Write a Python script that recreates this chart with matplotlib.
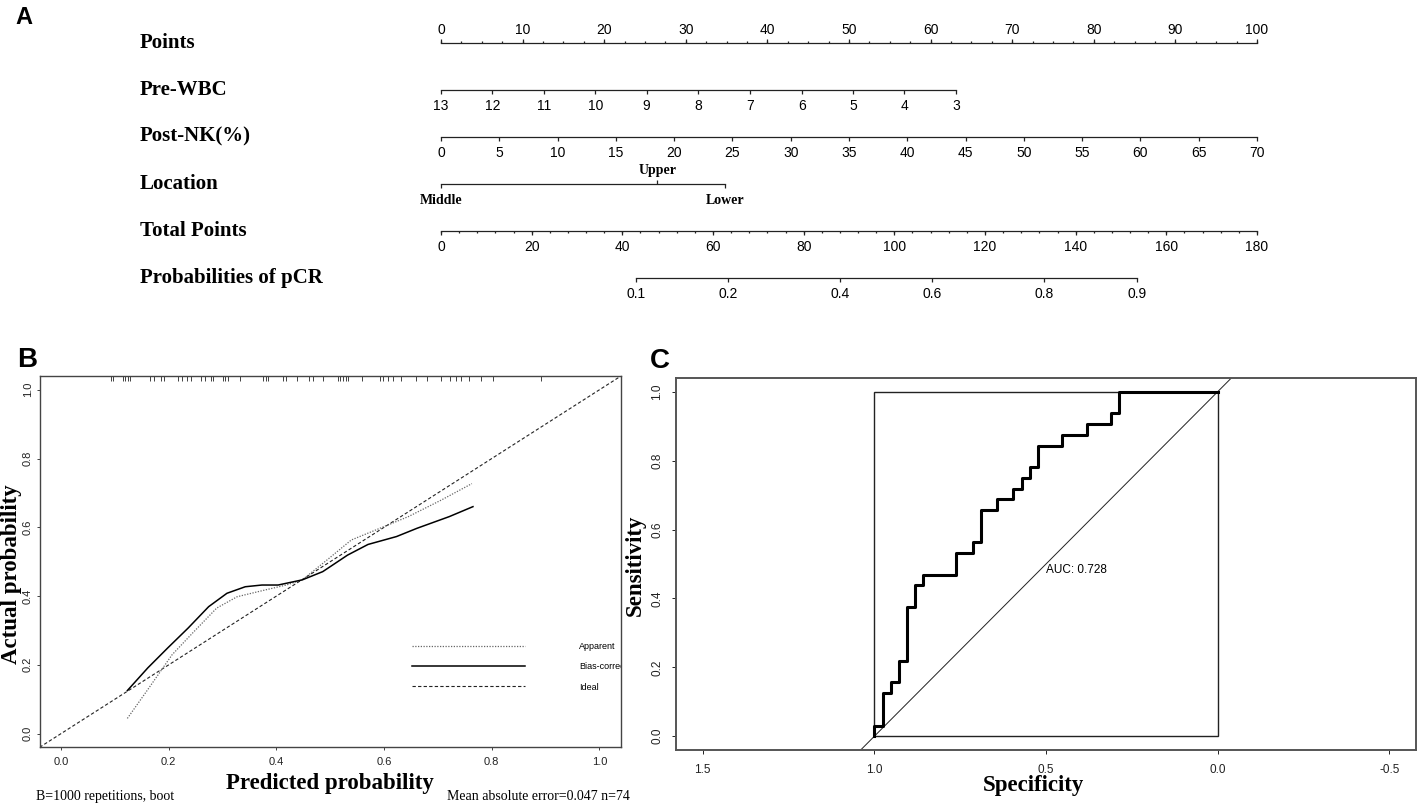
import matplotlib
matplotlib.use("Agg")
import matplotlib.pyplot as plt
import matplotlib.transforms as mtransforms
from matplotlib.lines import Line2D
from matplotlib.patches import Rectangle
import numpy as np

W, H = 1417, 805

SERIF = ["Liberation Serif", "DejaVu Serif"]
SANS = ["Liberation Sans", "DejaVu Sans"]
NARROW = ["Liberation Sans Narrow", "Liberation Sans", "DejaVu Sans"]
INK = "#222222"

# ---------------- panel A: nomogram ----------------
row_names = ["Points", "Pre-WBC", "Post-NK(%)", "Location", "Total Points",
             "Probabilities of pCR"]
points_ticks = [0, 10, 20, 30, 40, 50, 60, 70, 80, 90, 100]
wbc_ticks = [13, 12, 11, 10, 9, 8, 7, 6, 5, 4, 3]
wbc_points = [0.0, 6.3, 12.6, 18.9, 25.2, 31.5, 37.9, 44.2, 50.5, 56.8, 63.1]
nk_ticks = [0, 5, 10, 15, 20, 25, 30, 35, 40, 45, 50, 55, 60, 65, 70]
nk_max = 70
location_names = ["Middle", "Upper", "Lower"]
location_points = [0.0, 26.5, 34.8]
total_ticks = [0, 20, 40, 60, 80, 100, 120, 140, 160, 180]
total_max = 180
prob_ticks = ["0.1", "0.2", "0.4", "0.6", "0.8", "0.9"]
prob_total_points = [43.0, 63.4, 88.0, 108.4, 133.1, 153.5]

# ---------------- panel B: calibration ----------------
apparent_x = [0.123, 0.161, 0.206, 0.244, 0.289, 0.327, 0.380, 0.418, 0.448,
              0.494, 0.539, 0.592, 0.645, 0.706, 0.763]
apparent_y = [0.044, 0.128, 0.229, 0.292, 0.365, 0.398, 0.418, 0.432, 0.447,
              0.505, 0.563, 0.597, 0.631, 0.679, 0.727]
corrected_x = [0.123, 0.161, 0.198, 0.236, 0.274, 0.308, 0.342, 0.373, 0.403,
               0.448, 0.486, 0.532, 0.570, 0.623, 0.661, 0.721, 0.765]
corrected_y = [0.125, 0.191, 0.249, 0.307, 0.369, 0.408, 0.427, 0.432, 0.432,
               0.447, 0.471, 0.519, 0.550, 0.573, 0.597, 0.631, 0.660]
rug_x = [0.092, 0.097, 0.114, 0.119, 0.124, 0.127, 0.166, 0.173, 0.186, 0.192,
         0.217, 0.225, 0.233, 0.241, 0.259, 0.267, 0.278, 0.283, 0.301, 0.305,
         0.310, 0.332, 0.375, 0.380, 0.384, 0.412, 0.418, 0.438, 0.461, 0.467,
         0.487, 0.514, 0.518, 0.523, 0.529, 0.533, 0.558, 0.592, 0.598, 0.608,
         0.617, 0.631, 0.660, 0.680, 0.705, 0.723, 0.733, 0.742, 0.758, 0.780,
         0.802, 0.892]
legend_labels = ["Apparent", "Bias-corrected", "Ideal"]

# ---------------- panel C: ROC ----------------
roc_spec = [1.0, 0.976, 0.952, 0.929, 0.905, 0.881, 0.857, 0.762, 0.714, 0.690,
            0.643, 0.595, 0.571, 0.548, 0.524, 0.452, 0.381, 0.310, 0.286, 0.0]
roc_sens = [0.0, 0.031, 0.125, 0.156, 0.219, 0.375, 0.438, 0.469, 0.531, 0.563,
            0.656, 0.688, 0.719, 0.750, 0.781, 0.844, 0.875, 0.906, 0.938, 1.0]
auc = 0.728
c_xticks = [1.5, 1.0, 0.5, 0.0, -0.5]


def px(x):
    return x / W


def py(y):
    return 1 - y / H


fig = plt.figure(figsize=(W / 100, H / 100), dpi=100)

# ---- A ----
axA = fig.add_axes([px(441), py(277.7), (1257 - 441) / W, (277.7 - 42.7) / H])
axA.set_xlim(0, 100)
axA.set_ylim(5, 0)
axA.axis("off")
row_tf = mtransforms.blended_transform_factory(fig.transFigure, axA.transData)


def scale(row, pos, labels, up, minor=None):
    axA.plot([min(pos), max(pos)], [row, row], color=INK, lw=0.9, clip_on=False)
    d = -1 if up else 1
    axA.vlines(pos, row, row + d * 0.085, color=INK, lw=0.9, clip_on=False)
    if minor is not None:
        axA.vlines(minor, row, row + d * 0.045, color=INK, lw=0.9, clip_on=False)
    for p, lab in zip(pos, labels):
        axA.annotate(lab, (p, row), xytext=(0, 9.4 if up else -11.5),
                     textcoords="offset points", ha="center", va="center",
                     fontsize=10, family=SANS, annotation_clip=False)


scale(0, points_ticks, [str(t) for t in points_ticks], True,
      minor=np.arange(0, 100.1, 2.5))
scale(1, wbc_points, [str(t) for t in wbc_ticks], False)
scale(2, [t * 100 / nk_max for t in nk_ticks], [str(t) for t in nk_ticks], False)
scale(4, [t * 100 / total_max for t in total_ticks], [str(t) for t in total_ticks],
      False, minor=np.arange(0, total_max + 0.1, 4) * 100 / total_max)
scale(5, [t * 100 / total_max for t in prob_total_points], prob_ticks, False)

# location: categorical axis, the Upper tick points up
axA.plot([min(location_points), max(location_points)], [3, 3], color=INK, lw=0.9,
         clip_on=False)
for name, p in zip(location_names, location_points):
    up = name == "Upper"
    axA.vlines(p, 3, 3 + (-0.085 if up else 0.085), color=INK, lw=0.9, clip_on=False)
    axA.annotate(name, (p, 3), xytext=(0, 9.4 if up else -12), textcoords="offset points",
                 ha="center", va="center", fontsize=10, family=SERIF,
                 fontweight="bold", annotation_clip=False)

for i, name in enumerate(row_names):
    axA.text(px(140), i, name, transform=row_tf, ha="left", va="center",
             fontsize=15, family=SERIF, fontweight="bold")

fig.text(px(15), py(17), "A", fontsize=17, fontweight="bold", family=SANS,
         ha="left", va="center")

# ---- B ----
axB = fig.add_axes([px(39.6), py(747.3), (621 - 39.6) / W, (747.3 - 376) / H])
axB.set_xlim(-0.04, 1.04)
axB.set_ylim(-0.04, 1.04)
bt = np.arange(0, 1.01, 0.2)
axB.set_xticks(bt)
axB.set_xticklabels([f"{t:.1f}" for t in bt], family=NARROW, fontsize=8)
axB.set_yticks(bt)
axB.set_yticklabels([f"{t:.1f}" for t in bt], family=NARROW, fontsize=8,
                    rotation=90, va="center")
axB.tick_params(axis="x", length=2.2, width=0.6, pad=5, colors=INK)
axB.tick_params(axis="y", length=2.2, width=0.6, pad=2.5, colors=INK)
for s in axB.spines.values():
    s.set_linewidth(1.0)
    s.set_color("#444444")

top = axB.get_ylim()[1]
axB.vlines(rug_x, top - 0.015, top, color=INK, lw=0.6)
axB.axline((0, 0), slope=1, color=INK, lw=0.8, ls=(0, (3, 2)))
axB.plot(apparent_x, apparent_y, color="#666666", lw=0.9, ls=(0, (1, 1.2)))
axB.plot(corrected_x, corrected_y, color="black", lw=1.1)

handles = [Line2D([], [], color="#666666", lw=0.9, ls=(0, (1, 1.2))),
           Line2D([], [], color="black", lw=1.1),
           Line2D([], [], color=INK, lw=0.8, ls=(0, (3, 2)))]
leg = axB.legend(handles, legend_labels, loc="center left",
                 bbox_to_anchor=(0.652, 0.194), bbox_transform=axB.transData,
                 frameon=False, prop={"family": NARROW, "size": 6.5},
                 handlelength=12.5, handletextpad=6.0, labelspacing=1.25,
                 borderpad=0, borderaxespad=0)
for t in leg.get_texts():
    t.set_clip_box(axB.bbox)
    t.set_clip_on(True)

fig.text(px(330), py(783), "Predicted probability", fontsize=16.5, family=SERIF,
         fontweight="bold", ha="center", va="center")
fig.text(px(12), py(574), "Actual probability", fontsize=16.5, family=SERIF,
         fontweight="bold", ha="center", va="center", rotation=90)
fig.text(px(36), py(796), "B=1000 repetitions, boot", fontsize=10, family=SERIF,
         ha="left", va="center")
fig.text(px(630), py(796), "Mean absolute error=0.047 n=74", fontsize=10,
         family=SERIF, ha="right", va="center")
fig.text(px(17), py(360), "B", fontsize=20, fontweight="bold", family=SANS,
         ha="left", va="center")

# ---- C ----
axC = fig.add_axes([px(676), py(750), (1416 - 676) / W, 372 / H])
axC.set_xlim(1.578, -0.578)
axC.set_ylim(-0.04, 1.04)
axC.set_xticks(c_xticks)
axC.set_xticklabels([f"{t:.1f}" for t in c_xticks], family=NARROW, fontsize=8.5)
axC.set_yticks(bt)
axC.set_yticklabels([f"{t:.1f}" for t in bt], family=NARROW, fontsize=8.5,
                    rotation=90, va="center")
axC.tick_params(axis="x", length=3, width=0.7, pad=7, colors=INK)
axC.tick_params(axis="y", length=3, width=0.7, pad=6, colors=INK)
for s in axC.spines.values():
    s.set_linewidth(1.4)
    s.set_color("#555555")

axC.add_patch(Rectangle((min(roc_spec), min(roc_sens)),
                        max(roc_spec) - min(roc_spec), max(roc_sens) - min(roc_sens),
                        fill=False, ec=INK, lw=1.0))
axC.axline((1, 0), slope=-1, color=INK, lw=0.7)
axC.plot(roc_spec, roc_sens, drawstyle="steps-pre", color="black", lw=2.2)
axC.text(0.5, 0.484, f"AUC: {auc:.3f}", ha="left", va="center", fontsize=8.5,
         family=NARROW)

fig.text(px(1034), py(785), "Specificity", fontsize=16.5, family=SERIF,
         fontweight="bold", ha="center", va="center")
fig.text(px(635), py(565), "Sensitivity", fontsize=16.5, family=SERIF,
         fontweight="bold", ha="center", va="center", rotation=90)
fig.text(px(650), py(361), "C", fontsize=20, fontweight="bold", family=SANS,
         ha="left", va="center")

fig.savefig("out.png", dpi=100)
